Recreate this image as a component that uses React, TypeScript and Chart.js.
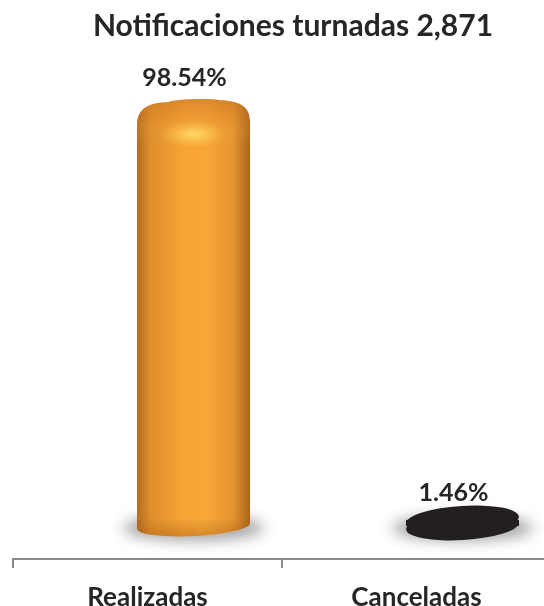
import React, { useEffect, useRef } from "react";
import { Chart, registerables } from "chart.js";

Chart.register(...registerables);

const categories = ["Realizadas", "Canceladas"];
const values = [98.54, 1.46];
const valueLabels = ["98.54%", "1.46%"];
const barColors = ["#f5a232", "#231f20"];
const titleText = "Notificaciones turnadas 2,871";

const FONT = "Lato, 'Open Sans', sans-serif";
const DX = 46; // 3D perspective shift
const DY = -33;
const RX = 56.5;

function shadow(ctx: CanvasRenderingContext2D, cx: number, cy: number, rx: number, ry: number) {
  ctx.save();
  ctx.filter = "blur(7px)";
  ctx.fillStyle = "rgba(95,95,95,0.55)";
  ctx.beginPath();
  ctx.ellipse(cx, cy, rx, ry, 0, 0, Math.PI * 2);
  ctx.fill();
  ctx.restore();
}

function drawTall(ctx: CanvasRenderingContext2D, cx: number, topC: number, baseC: number) {
  const L = cx - RX, R = cx + RX;
  const T = topC - 14;
  const p = new Path2D();
  p.moveTo(L, baseC);
  p.lineTo(L, T + 26);
  p.bezierCurveTo(L, T + 6, L + 14, T + 3, L + 32, T + 2);
  p.bezierCurveTo(cx - 20, T - 1, cx + 20, T - 2, R - 32, T + 0);
  p.bezierCurveTo(R - 12, T + 1, R, T + 5, R, T + 22);
  p.lineTo(R, baseC - 4);
  p.ellipse(cx, baseC, RX, 10, -0.05, 0, Math.PI);
  p.closePath();

  const g = ctx.createLinearGradient(L, 0, R, 0);
  g.addColorStop(0, "#b36c20");
  g.addColorStop(0.12, "#de8e2b");
  g.addColorStop(0.4, "#f6a435");
  g.addColorStop(0.6, "#f8a838");
  g.addColorStop(0.85, "#e6942f");
  g.addColorStop(1, "#a9651d");
  ctx.fillStyle = g;
  ctx.fill(p);

  ctx.save();
  ctx.clip(p);
  const vg = ctx.createLinearGradient(0, T, 0, T + 45);
  vg.addColorStop(0, "rgba(185,105,30,0.45)");
  vg.addColorStop(0.45, "rgba(215,130,40,0.25)");
  vg.addColorStop(1, "rgba(255,200,90,0)");
  ctx.fillStyle = vg;
  ctx.fillRect(L, T - 5, RX * 2, 55);
  ctx.save();
  ctx.translate(cx, T + 34);
  ctx.scale(2.4, 1);
  const rg = ctx.createRadialGradient(0, 0, 0, 0, 0, 14);
  rg.addColorStop(0, "rgba(255,228,110,0.85)");
  rg.addColorStop(1, "rgba(255,200,80,0)");
  ctx.fillStyle = rg;
  ctx.beginPath();
  ctx.arc(0, 0, 14, 0, Math.PI * 2);
  ctx.fill();
  ctx.restore();
  const bg = ctx.createLinearGradient(0, baseC - 8, 0, baseC + 12);
  bg.addColorStop(0, "rgba(160,90,20,0)");
  bg.addColorStop(1, "rgba(160,90,20,0.45)");
  ctx.fillStyle = bg;
  ctx.fillRect(L, baseC - 8, RX * 2, 22);
  ctx.restore();
}

function drawDisk(ctx: CanvasRenderingContext2D, cx: number, topC: number, baseC: number, color: string) {
  ctx.save();
  ctx.fillStyle = color;
  ctx.beginPath();
  ctx.ellipse(cx, baseC, RX, 14, -0.06, 0, Math.PI * 2);
  ctx.fill();
  ctx.fillRect(cx - RX, topC, RX * 2, baseC - topC);
  ctx.beginPath();
  ctx.ellipse(cx, topC, RX, 14, -0.06, 0, Math.PI * 2);
  ctx.fill();
  ctx.restore();
}

const cylPlugin = {
  id: "cyl",
  afterDatasetsDraw(chart: any) {
    const ctx = chart.ctx as CanvasRenderingContext2D;
    const meta = chart.getDatasetMeta(0);
    meta.data.forEach((el: any, i: number) => {
      const { x, y, base } = el.getProps(["x", "y", "base"], true);
      const cx = x + DX;
      const topC = y + DY;
      const baseC = base + DY;
      shadow(ctx, cx, baseC + 2, RX * 1.25, 13);
      let labelY: number;
      if (baseC - topC > 30) {
        drawTall(ctx, cx, topC, baseC);
        labelY = topC - 36;
      } else {
        drawDisk(ctx, cx, topC, baseC, barColors[i]);
        labelY = topC - 27;
      }
      ctx.save();
      ctx.font = `bold 25px ${FONT}`;
      ctx.fillStyle = "#262626";
      ctx.textAlign = "center";
      ctx.textBaseline = "middle";
      ctx.fillText(valueLabels[i], cx - 9, labelY);
      ctx.restore();
    });
    ctx.save();
    ctx.font = `bold 30px ${FONT}`;
    ctx.fillStyle = "#262626";
    ctx.textAlign = "center";
    ctx.textBaseline = "middle";
    ctx.fillText(titleText, chart.chartArea.left + (chart.chartArea.right - chart.chartArea.left) / 2 + 11, 26);
    ctx.restore();
  },
};

export default function App() {
  const ref = useRef<HTMLCanvasElement | null>(null);
  useEffect(() => {
    if (!ref.current) return;
    const chart = new Chart(ref.current, {
      type: "bar",
      data: {
        labels: categories,
        datasets: [
          {
            data: values,
            backgroundColor: "rgba(0,0,0,0)",
            borderWidth: 0,
          },
        ],
      },
      options: {
        responsive: false,
        animation: false,
        devicePixelRatio: 1,
        layout: { padding: { top: 141, left: 13, right: 1, bottom: 0 } },
        plugins: { legend: { display: false }, tooltip: { enabled: false }, title: { display: false } },
        scales: {
          y: { display: false, min: 0, max: 100 },
          x: {
            afterFit: (scale: any) => {
              scale.height = 47;
            },
            border: { display: true, color: "#8a8a8a", width: 2 },
            grid: { display: true, drawOnChartArea: false, drawTicks: true, tickLength: 9, color: "#8a8a8a", lineWidth: 2, offset: true },
            ticks: { color: "#262626", font: { family: FONT, size: 26, weight: "bold" }, padding: 14 },
          },
        },
      },
      plugins: [cylPlugin],
    });
    return () => chart.destroy();
  }, []);
  return (
    <div style={{ position: "absolute", left: 0, top: 0, width: 544, height: 606, overflow: "hidden", background: "#fff" }}>
      <canvas ref={ref} width={552} height={606} style={{ display: "block", width: 552, height: 606 }} />
    </div>
  );
}
